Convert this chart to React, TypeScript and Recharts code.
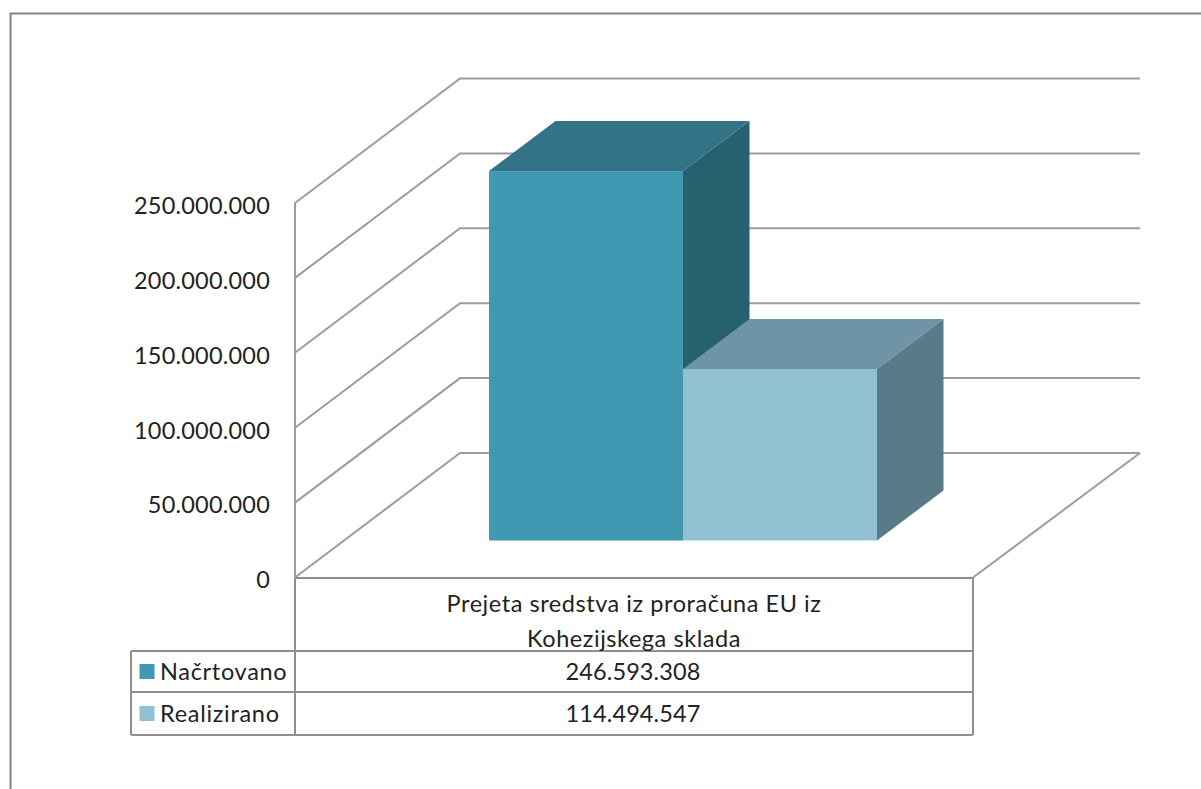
import { BarChart, Bar, XAxis, YAxis, CartesianGrid } from 'recharts';

const categoryLines = ['Prejeta sredstva iz proračuna EU iz', 'Kohezijskega sklada'];
const seriesNames = ['Načrtovano', 'Realizirano'];
const planned = [246593308];
const realized = [114494547];
const tickValues = [0, 50000000, 100000000, 150000000, 200000000, 250000000];

const FONT = 'Lato, sans-serif';
const TEXT = '#222222';
const LINE = '#8f8f8f';
const GRID = '#9c9c9c';
const FONT_SIZE = 23.5;

const WIDTH = 1201;
const HEIGHT = 789;
// wall depth of the fake 3D box
const WALL_DX = 165;
const WALL_DY = -124.5;
// where bars sit inside the box, and how deep they are
const BAR_DX = 49;
const BAR_DY = -37;
const BAR_DEPTH_X = 66.5;
const BAR_DEPTH_Y = -50;

const chartData = [{ name: categoryLines.join(' '), planned: planned[0], realized: realized[0] }];

function fmt(v: number) {
  return String(v).replace(/\B(?=(\d{3})+$)/g, '.');
}

function makeBar(front: string, top: string, side: string) {
  return function Bar3D(props: any) {
    const x = props.x + BAR_DX;
    const y = props.y + BAR_DY;
    const w = props.width;
    const h = props.height;
    const dx = BAR_DEPTH_X;
    const dy = BAR_DEPTH_Y;
    return (
      <g>
        <polygon points={`${x + w},${y} ${x + w + dx},${y + dy} ${x + w + dx},${y + h + dy} ${x + w},${y + h}`} fill={side} />
        <polygon points={`${x},${y} ${x + dx},${y + dy} ${x + w + dx},${y + dy} ${x + w},${y}`} fill={top} />
        <rect x={x} y={y} width={w} height={h} fill={front} />
      </g>
    );
  };
}

function GridLine(props: any) {
  const { x1, y1, x2, index } = props;
  const isFloor = Math.abs(y1 - 577.5) < 1;
  const bx = x1 + WALL_DX;
  const by = y1 + WALL_DY;
  return (
    <g key={props.key ?? index}>
      <polyline points={`${x1},${y1} ${bx},${by} 1140,${by}`} fill="none" stroke={GRID} strokeWidth={2} />
      {isFloor && <polyline points={`1140,${by} ${x2},${y1}`} fill="none" stroke={GRID} strokeWidth={2} />}
    </g>
  );
}

function DataTable() {
  const rows = [
    { name: seriesNames[0], value: planned[0], color: '#4198B3', top: 651, bottom: 692 },
    { name: seriesNames[1], value: realized[0], color: '#92C1D3', top: 692, bottom: 735 },
  ];
  return (
    <svg width={WIDTH} height={HEIGHT} style={{ position: 'absolute', left: 0, top: 0, pointerEvents: 'none' }}>
      <polyline points="10.5,789 10.5,13.5 1201,13.5" fill="none" stroke="#858585" strokeWidth={2} />
      <g stroke={LINE} strokeWidth={2} fill="none">
        <line x1={295} y1={578} x2={973} y2={578} />
        <line x1={295} y1={578} x2={295} y2={735} />
        <line x1={973} y1={578} x2={973} y2={735} />
        <line x1={131} y1={651} x2={973} y2={651} />
        <line x1={131} y1={692} x2={973} y2={692} />
        <line x1={131} y1={735} x2={973} y2={735} />
        <line x1={131} y1={651} x2={131} y2={735} />
      </g>
      <g fontFamily={FONT} fontSize={FONT_SIZE} fill={TEXT}>
        <text x={634} y={612} textAnchor="middle" letterSpacing={0.55}>{categoryLines[0]}</text>
        <text x={634} y={647} textAnchor="middle" letterSpacing={0.55}>{categoryLines[1]}</text>
        {rows.map((r) => (
          <g key={r.name}>
            <rect x={139.5} y={(r.top + r.bottom) / 2 - 7.5} width={15} height={15} fill={r.color} />
            <text x={160} y={(r.top + r.bottom) / 2 + 8} letterSpacing={0.7}>{r.name}</text>
            <text x={633} y={(r.top + r.bottom) / 2 + 8} textAnchor="middle" letterSpacing={0.1}>{fmt(r.value)}</text>
          </g>
        ))}
      </g>
    </svg>
  );
}

export default function App() {
  return (
    <div style={{ position: 'absolute', left: 0, top: 0, width: WIDTH, height: HEIGHT, background: '#fff', overflow: 'hidden' }}>
      <BarChart
        width={WIDTH}
        height={HEIGHT}
        data={chartData}
        margin={{ top: 203, right: 228, bottom: 211.5, left: 0 }}
        barCategoryGap={145}
        barGap={0}
      >
        <CartesianGrid vertical={false} horizontal={GridLine as any} />
        <XAxis dataKey="name" hide />
        <YAxis
          width={295}
          domain={[0, 250000000]}
          ticks={tickValues}
          interval={0}
          tickFormatter={fmt}
          tickSize={0}
          tickMargin={25}
          tick={{ fontSize: FONT_SIZE, fontFamily: FONT, fill: TEXT, dy: 2.5, letterSpacing: 0.2 }}
          axisLine={{ stroke: GRID, strokeWidth: 2 }}
          tickLine={false}
        />
        <Bar dataKey="planned" name={seriesNames[0]} barSize={194} isAnimationActive={false} shape={makeBar('#4198B3', '#327388', '#266170')} />
        <Bar dataKey="realized" name={seriesNames[1]} barSize={194} isAnimationActive={false} shape={makeBar('#92C1D3', '#6E94A5', '#597B88')} />
      </BarChart>
      <DataTable />
    </div>
  );
}
